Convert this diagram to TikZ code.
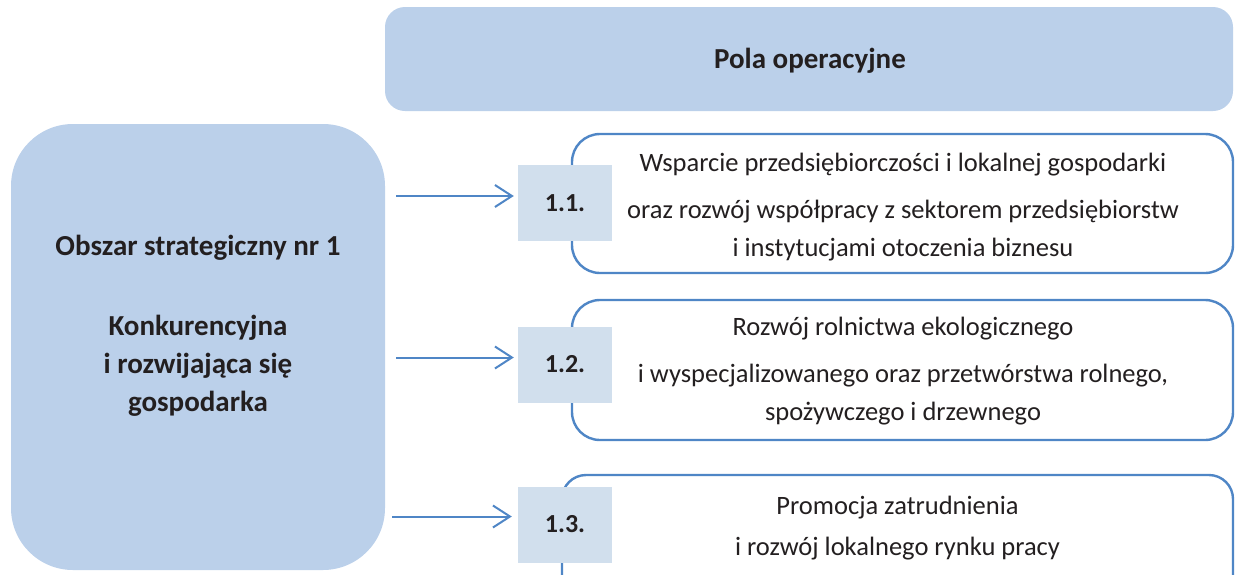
\documentclass[tikz,border=0pt]{standalone}
\usepackage{fontspec}
\setmainfont{Carlito}
\usetikzlibrary{arrows.meta}
\definecolor{lightfill}{HTML}{BBD0EA}
\definecolor{numfill}{HTML}{D1DFED}
\definecolor{edgeblue}{HTML}{4F86C6}
\definecolor{txt}{HTML}{231F20}
\tikzset{
  bigbox/.style={fill=lightfill, draw=none, text=txt, align=center, inner sep=0pt},
  fieldbox/.style={draw=edgeblue, line width=2.4pt, fill=white, rounded corners=28pt,
    minimum width=661pt, inner sep=0pt},
  fieldtext/.style={text=txt, align=center, inner sep=0pt,
    font=\fontsize{26.5}{38}\selectfont},
  boldtext/.style={text=txt, align=center, inner sep=0pt,
    font=\fontsize{29}{38}\selectfont\bfseries},
  numbox/.style={fill=numfill, draw=none, minimum width=94pt, minimum height=76pt,
    text=txt, font=\fontsize{26}{30}\selectfont\bfseries, inner sep=0pt},
  arr/.style={draw=edgeblue, line width=2pt, -{Straight Barb[length=17pt,width=22pt,line width=2pt]}},
}
\begin{document}
\begin{tikzpicture}[x=1pt,y=-1pt]
\useasboundingbox (0,0) rectangle (1235,574);
\clip (0,0) rectangle (1235,574);
% top header
\node[bigbox, rounded corners=20pt, minimum width=848pt, minimum height=104pt] (head) at (809,59) {};
\node[boldtext] (headtext) at (810,61) {Pola operacyjne};
% left strategic area
\node[bigbox, rounded corners=62pt, minimum width=374pt, minimum height=446pt] (area) at (198,347) {};
\node[boldtext] (areatext) at (198,326)
  {Obszar strategiczny nr 1\\[42pt]Konkurencyjna\\i rozwijająca się\\gospodarka};
% field boxes
\node[fieldbox, minimum height=139pt] (f1) at (902.5,203.5) {};
\node[fieldtext] (t1) at (903,207)
  {Wsparcie przedsiębiorczości i lokalnej gospodarki\\[9pt]oraz rozwój współpracy z sektorem przedsiębiorstw\\i instytucjami otoczenia biznesu};
\node[fieldbox, minimum height=140pt] (f2) at (902.5,370) {};
\node[fieldtext] (t2) at (903,371)
  {Rozwój rolnictwa ekologicznego\\[9pt]i wyspecjalizowanego oraz przetwórstwa rolnego,\\spożywczego i drzewnego};
\node[fieldbox, minimum width=671pt, minimum height=160pt, rounded corners=24pt] (f3) at (897.5,555) {};
\node[fieldtext, font=\fontsize{26.5}{41}\selectfont] (t3) at (897.5,528)
  {Promocja zatrudnienia\\i rozwój lokalnego rynku pracy};
% number boxes
\node[numbox] (n1) at (565,203) {1.1.};
\node[numbox] (n2) at (565,364.5) {1.2.};
\node[numbox] (n3) at (565,524.5) {1.3.};
% arrows
\draw[arr] ([xshift=11pt,yshift=7pt]area.east |- n1.west) -- ([xshift=-4pt,yshift=7pt]n1.west);
\draw[arr] ([xshift=11pt,yshift=7pt]area.east |- n2.west) -- ([xshift=-4pt,yshift=7pt]n2.west);
\draw[arr] ([xshift=7pt,yshift=8pt]area.east |- n3.west) -- ([xshift=-6pt,yshift=8pt]n3.west);
\end{tikzpicture}
\end{document}
